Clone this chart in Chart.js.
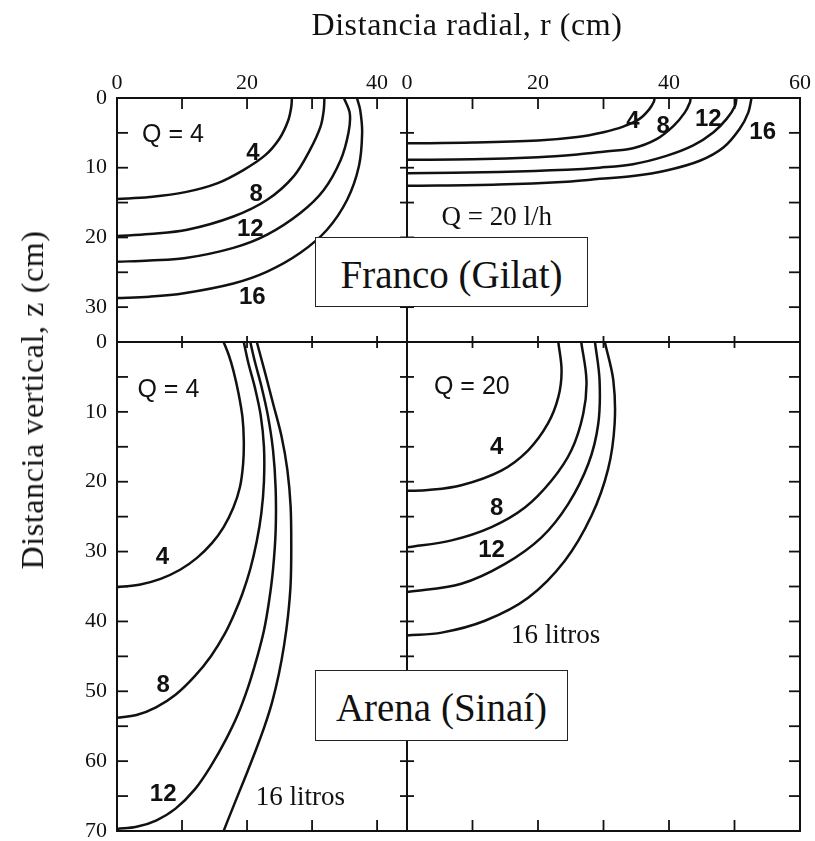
<!DOCTYPE html>
<html>
<head>
<meta charset="utf-8">
<script src="https://cdn.jsdelivr.net/npm/chart.js@4/dist/chart.umd.min.js"></script>
<style>
  body { margin: 0; background: #fff; }
  #fig { position: relative; width: 815px; height: 841px; background: #fff; overflow: hidden; }
  #fig canvas { position: absolute; left: 0; top: 0; }
  .txt { position: absolute; white-space: nowrap; font-family: 'Liberation Serif', serif; color: #111; line-height: 1; }
  .box { position: absolute; box-sizing: border-box; border: 1.5px solid #222; background: #fff;
         display: flex; align-items: center; justify-content: center; padding-top: 4px;
         font-family: 'Liberation Serif', serif; font-size: 39px; line-height: 1; color: #111; }
</style>
</head>
<body>
<div id="fig">
  <canvas id="tl" width="815" height="900"></canvas>
  <canvas id="tr" width="815" height="900"></canvas>
  <canvas id="bl" width="815" height="900"></canvas>
  <canvas id="br" width="815" height="900"></canvas>
  <div class="txt" style="left:467px; top:24px; font-size:32px; letter-spacing:0.6px; transform:translate(-50%,-50%)">Distancia radial, r (cm)</div>
  <div class="txt" style="left:32px; top:400px; font-size:32px; letter-spacing:0.6px; transform:translate(-50%,-50%) rotate(-90deg)">Distancia vertical, z (cm)</div>
  <div class="box" style="left:315px; top:237px; width:273px; height:70px">Franco (Gilat)</div>
  <div class="box" style="left:315px; top:670px; width:253px; height:71px">Arena (Sinaí)</div>
</div>
<script>
// wetting fronts, [r (cm), z (cm)] per point
// Franco (Gilat), Q = 4 l/h, after 4, 8, 12, 16 litres
const francoQ4_4 = [[0, 14.5], [5, 14.2], [10.5, 13.5], [15.5, 12.2], [19.5, 10.3], [22.8, 8.2], [25, 5.8], [26.3, 3.3], [26.8, 1.3], [26.9, 0]];
const francoQ4_8 = [[0, 19.8], [5, 19.5], [10.8, 18.9], [17.9, 17.0], [23.1, 14.6], [27.2, 11.2], [29.7, 7.4], [31.3, 4.1], [31.8, 1.7], [31.9, 0]];
const francoQ4_12 = [[0, 23.5], [5, 23.3], [10.3, 23.0], [17.9, 21.5], [23.1, 19.6], [28.2, 16.5], [31.8, 13.2], [34.4, 8.9], [35.6, 5.0], [35.8, 2.2], [34.9, 0]];
const francoQ4_16 = [[0, 28.7], [5, 28.5], [10.3, 28.0], [17.9, 26.6], [23.1, 24.9], [28.2, 22.2], [32.3, 18.9], [35.4, 14.6], [37.2, 9.8], [37.7, 5.0], [37.4, 1.7], [36.9, 0]];

// Franco (Gilat), Q = 20 l/h
const francoQ20_4 = [[0, 6.5], [10, 6.4], [20, 6.1], [26, 5.6], [30, 4.9], [33, 4.1], [35.5, 3.0], [37, 1.6], [37.7, 0.5], [37.8, 0]];
const francoQ20_8 = [[0, 8.85], [10, 8.8], [20, 8.5], [26, 8.1], [30, 7.7], [34.5, 7.2], [38.1, 5.9], [40.7, 4.0], [42.4, 2.1], [43.2, 0.6], [43.3, 0]];
const francoQ20_12 = [[0, 10.8], [14, 10.6], [24.4, 10.3], [29.4, 10.0], [34.5, 9.5], [39.6, 8.3], [43.7, 6.8], [46.8, 4.9], [48.8, 3.0], [50.1, 1.1], [50.3, 0]];
const francoQ20_16 = [[0, 12.6], [14, 12.4], [24.4, 12.0], [29.4, 11.6], [34.5, 11.2], [39.6, 10.4], [44.7, 9.0], [48.3, 7.1], [50.8, 4.4], [52.1, 2.1], [52.6, 0]];

// Arena (Sinai), Q = 4 l/h
const arenaQ4_4 = [[0, 35.1], [3.6, 34.7], [6.7, 33.9], [9.7, 32.6], [12.3, 30.9], [14.6, 28.8], [16.4, 26.5], [17.9, 23.7], [18.9, 20.8], [19.4, 17.4], [19.5, 14.1], [19.3, 10.8], [18.7, 7.4], [17.9, 4.1], [17.2, 1.9], [16.4, 0]];
const arenaQ4_8 = [[0, 53.8], [3, 53.4], [6, 52.3], [9, 50.5], [12, 47.8], [14.5, 44.9], [16.5, 41.9], [18, 39.0], [19.3, 36.0], [20.5, 32.5], [21.5, 28.5], [22.2, 24.5], [22.6, 20.0], [22.6, 15.0], [22.1, 10.5], [21.2, 6.5], [20.2, 3.0], [19.5, 0]];
const arenaQ4_12 = [[0, 69.7], [3, 69.4], [6, 68.5], [9, 66.8], [12, 64.0], [14.5, 60.6], [16.7, 57.0], [18.6, 53.3], [20.2, 49.3], [21.5, 45.3], [22.6, 41.3], [23.4, 37.0], [24.0, 32.5], [24.4, 27.0], [24.4, 21.0], [24.0, 15.5], [23.2, 10.5], [22.2, 6.3], [21.2, 2.8], [20.5, 0]];
const arenaQ4_16 = [[16.4, 70], [17.5, 67.4], [18.8, 64.4], [20.1, 61.4], [21.4, 58.3], [22.7, 55.0], [23.9, 51.4], [24.9, 47.5], [25.7, 43.4], [26.3, 39.2], [26.7, 34.7], [26.8, 29.5], [26.7, 23.5], [26.2, 18.3], [25.3, 13.5], [24.0, 8.8], [22.8, 4.5], [21.5, 0]];

// Arena (Sinai), Q = 20 l/h
const arenaQ20_4 = [[0, 21.3], [3.2, 21.2], [8.3, 20.5], [14.4, 18.4], [18.5, 15.5], [21.5, 11.7], [23.1, 7.9], [23.6, 4.1], [23.1, 0]];
const arenaQ20_8 = [[0, 29.4], [6.8, 28.4], [12.9, 26.5], [18.0, 23.7], [22.1, 19.8], [25.1, 15.5], [26.9, 10.3], [27.4, 5.5], [26.6, 0]];
const arenaQ20_12 = [[0, 35.8], [8.3, 34.6], [14.9, 31.8], [20.5, 28.0], [24.6, 23.2], [27.7, 17.4], [29.2, 11.7], [29.4, 5.5], [28.7, 0]];
const arenaQ20_16 = [[0, 42.0], [5.3, 41.6], [11.9, 39.9], [18.5, 36.6], [24.1, 31.3], [28.2, 24.8], [30.7, 18.2], [31.7, 11.7], [31.5, 5.5], [30.2, 0]];

// tick labels
const rTicksLeft = [0, 20, 40];
const rTicksRight = [0, 20, 40, 60];
const zTicksTop = [0, 10, 20, 30];
const zTicksBottom = [0, 10, 20, 30, 40, 50, 60, 70];

const ink = '#111';
const tickFont = {family: "'Liberation Serif', serif", size: 22};
const numFont = "bold 24px 'Liberation Sans', sans-serif";
const qSans = "25px 'Liberation Sans', sans-serif";
const qSerif = "27px 'Liberation Serif', serif";

// frame box plus the little inward / crossing tick marks
function framePlugin(marks) {
  return {
    id: 'frame',
    afterDraw(chart) {
      const {ctx, chartArea: a, scales} = chart;
      ctx.save();
      ctx.strokeStyle = ink;
      ctx.lineWidth = 2;
      ctx.strokeRect(a.left, a.top, a.right - a.left, a.bottom - a.top);
      ctx.lineWidth = 1.8;
      marks.forEach(m => {
        const horiz = m.side == 'top' || m.side == 'bottom';
        const s = horiz ? scales.x : scales.y;
        for (let v = m.step; v < s.max - 0.01; v += m.step) {
          const p = s.getPixelForValue(v);
          const len = m.len || 11;
          ctx.beginPath();
          if (m.side == 'top') {
            ctx.moveTo(p, m.cross ? a.top - 6 : a.top);
            ctx.lineTo(p, m.cross ? a.top + 6 : a.top + len);
          } else if (m.side == 'bottom') {
            ctx.moveTo(p, a.bottom);
            ctx.lineTo(p, a.bottom - len);
          } else if (m.side == 'left') {
            ctx.moveTo(m.cross ? a.left - 7 : a.left, p);
            ctx.lineTo(m.cross ? a.left + 7 : a.left + len, p);
          } else {
            ctx.moveTo(a.right, p);
            ctx.lineTo(a.right - len, p);
          }
          ctx.stroke();
        }
      });
      ctx.restore();
    }
  };
}

// text notes placed in data units
function notesPlugin(items) {
  return {
    id: 'notes',
    afterDatasetsDraw(chart) {
      const {ctx, scales: {x, y}} = chart;
      ctx.save();
      ctx.fillStyle = ink;
      ctx.textAlign = 'center';
      ctx.textBaseline = 'middle';
      items.forEach(n => {
        ctx.font = n.f;
        ctx.fillText(n.t, x.getPixelForValue(n.r), y.getPixelForValue(n.z));
      });
      ctx.restore();
    }
  };
}

function curve(pts) {
  return {
    data: pts.map(([r, z]) => ({x: r, y: z})),
    showLine: true,
    borderColor: ink,
    borderWidth: 2.5,
    pointRadius: 0,
    tension: 0.35,
    fill: false
  };
}

function axis(pos, max, labels, size, opts) {
  const a = {
    type: 'linear',
    position: pos,
    min: 0,
    max: max,
    reverse: pos == 'left' || pos == 'right',
    grid: {display: false, drawTicks: false},
    border: {display: false},
    display: !!labels
  };
  if (labels) {
    a.afterBuildTicks = s => { s.ticks = labels.map(v => ({value: v})); };
    a.afterFit = s => { if (pos == 'top') s.height = size; else s.width = size; };
    a.ticks = Object.assign({font: tickFont, color: ink, autoSkip: false, maxRotation: 0, padding: 2}, opts || {});
  }
  return a;
}

function panel(id, curves, x, y, padding, marks, notes) {
  return new Chart(document.getElementById(id), {
    type: 'scatter',
    data: {datasets: curves.map(curve)},
    options: {
      responsive: false,
      animation: false,
      events: [],
      layout: {padding: padding, autoPadding: false},
      plugins: {legend: {display: false}, tooltip: {enabled: false}},
      scales: {x: x, y: y}
    },
    plugins: [framePlugin(marks), notesPlugin(notes)]
  });
}

// chart areas: left 117..407, right 407..800, top 98..342, bottom 342..831
// canvases run 900 px tall so the last y label never squeezes the plot
panel('tl', [francoQ4_4, francoQ4_8, francoQ4_12, francoQ4_16],
  axis('top', 44.6, rTicksLeft, 40),
  axis('left', 35, zTicksTop, 60, {padding: 10}),
  {left: 57, top: 58, right: 408, bottom: 558},
  [{side: 'top', step: 10}, {side: 'left', step: 5}],
  [{t: 'Q = 4', r: 8.6, z: 5.3, f: qSans},
   {t: '4', r: 20.9, z: 7.9, f: numFont},
   {t: '8', r: 21.4, z: 13.8, f: numFont},
   {t: '12', r: 20.5, z: 18.9, f: numFont},
   {t: '16', r: 20.8, z: 28.6, f: numFont}]);

panel('tr', [francoQ20_4, francoQ20_8, francoQ20_12, francoQ20_16],
  axis('top', 60, rTicksRight, 40),
  axis('right', 35, null),
  {left: 407, top: 58, right: 15, bottom: 558},
  [{side: 'top', step: 10}, {side: 'right', step: 5}, {side: 'left', step: 5, cross: true}],
  [{t: 'Q = 20 l/h', r: 13.7, z: 17.2, f: qSerif},
   {t: '4', r: 34.5, z: 3.4, f: numFont},
   {t: '8', r: 39.1, z: 4.1, f: numFont},
   {t: '12', r: 46.0, z: 3.1, f: numFont},
   {t: '16', r: 54.3, z: 5.0, f: numFont}]);

panel('bl', [arenaQ4_4, arenaQ4_8, arenaQ4_12, arenaQ4_16],
  axis('top', 44.6, null),
  axis('left', 70, zTicksBottom, 60, {padding: 10}),
  {left: 57, top: 342, right: 408, bottom: 69},
  [{side: 'bottom', step: 10}, {side: 'left', step: 5}, {side: 'top', step: 10, cross: true}],
  [{t: 'Q = 4', r: 7.9, z: 6.9, f: qSans},
   {t: '4', r: 7.0, z: 30.9, f: numFont},
   {t: '8', r: 7.1, z: 49.2, f: numFont},
   {t: '12', r: 7.1, z: 64.7, f: numFont},
   {t: '16 litros', r: 28.2, z: 65.3, f: qSerif}]);

panel('br', [arenaQ20_4, arenaQ20_8, arenaQ20_12, arenaQ20_16],
  axis('top', 60, null),
  axis('right', 70, null),
  {left: 407, top: 342, right: 15, bottom: 69},
  [{side: 'bottom', step: 10}, {side: 'right', step: 5}, {side: 'top', step: 10, cross: true}, {side: 'left', step: 5, cross: true}],
  [{t: 'Q = 20', r: 9.9, z: 6.5, f: qSans},
   {t: '4', r: 13.7, z: 15.1, f: numFont},
   {t: '8', r: 13.7, z: 23.8, f: numFont},
   {t: '12', r: 12.9, z: 29.9, f: numFont},
   {t: '16 litros', r: 22.7, z: 42.1, f: qSerif}]);
</script>
</body>
</html>
